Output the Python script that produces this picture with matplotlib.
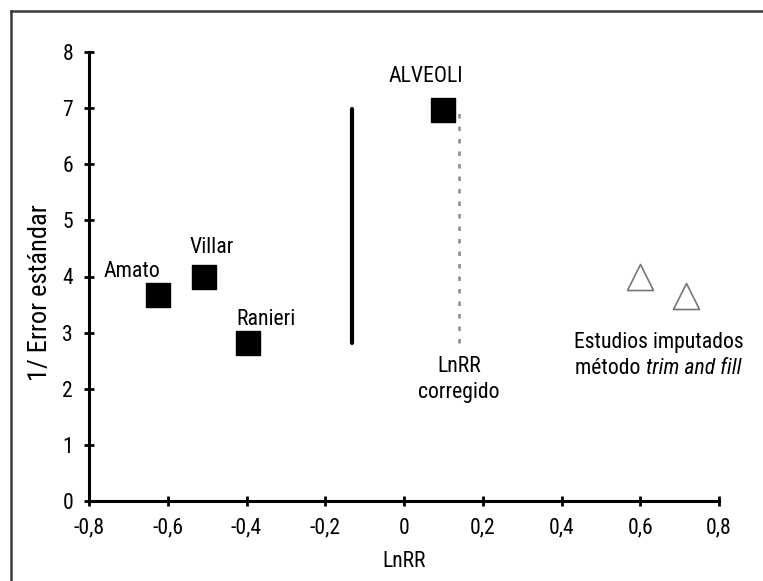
import matplotlib
matplotlib.use("Agg")
import matplotlib.pyplot as plt
from matplotlib.lines import Line2D
from matplotlib import font_manager as fm

# Data
studies = ["Amato", "Villar", "Ranieri", "ALVEOLI"]
study_x = [-0.625, -0.508, -0.396, 0.099]
study_y = [3.67, 3.99, 2.82, 6.97]

imputed_x = [0.60, 0.716]
imputed_y = [4.00, 3.65]

pooled_x = -0.132
pooled_y = [2.82, 6.98]
corrected_x = 0.14
corrected_y = [2.82, 7.0]

xticks = [-0.8, -0.6, -0.4, -0.2, 0, 0.2, 0.4, 0.6, 0.8]
xtick_labels = ["-0,8", "-0,6", "-0,4", "-0,2", "0", "0,2", "0,4", "0,6", "0,8"]
yticks = [0, 1, 2, 3, 4, 5, 6, 7, 8]

# pick a condensed face if one is installed
family = None
for cand in ["Liberation Sans Narrow", "Roboto Condensed", "Open Sans Condensed", "DejaVu Sans Condensed"]:
    try:
        fm.findfont(fm.FontProperties(family=cand), fallback_to_default=False)
        family = cand
        break
    except Exception:
        pass
if family is None:
    family = "Liberation Sans"
plt.rcParams['font.family'] = [family, 'DejaVu Sans']

W, H = 763, 581
fig = plt.figure(figsize=(W / 100, H / 100), dpi=100)
r = fig.canvas.get_renderer()


def fit_size(text, target_px, style="normal"):
    t = fig.text(0, 0, text, fontsize=20, style=style)
    w = t.get_window_extent(r).width
    t.remove()
    return 20 * target_px / w


tick_fs = fit_size("-0,8", 31)
fs = fit_size("Estudios imputados", 170)
ylab_fs = fit_size("1/ Error estándar", 176)

ax = fig.add_axes([89 / W, 1 - 501 / H, (719 - 89) / W, (501 - 52) / H])

# outer frame (only left and top edges inside the image)
fx = 10.5 / W
fy = 1 - 10.5 / H
fig.add_artist(Line2D([fx, fx], [-0.01, fy], transform=fig.transFigure, color="#3a3a3a", linewidth=1.8))
fig.add_artist(Line2D([fx, 1.01], [fy, fy], transform=fig.transFigure, color="#3a3a3a", linewidth=1.8))

ax.set_xlim(-0.8, 0.8)
ax.set_ylim(0, 8)
for s in ["top", "right"]:
    ax.spines[s].set_visible(False)
for s in ["left", "bottom"]:
    ax.spines[s].set_linewidth(2.2)
ax.set_xticks(xticks)
ax.set_xticklabels(xtick_labels)
ax.set_yticks(yticks)
ax.tick_params(direction="inout", length=7, width=2, labelsize=tick_fs)
ax.tick_params(axis="x", pad=8.5)
ax.tick_params(axis="y", pad=8)

ax.scatter(study_x, study_y, marker="s", s=24 ** 2 * 0.52, color="black", zorder=3, clip_on=False)
ax.scatter(imputed_x, imputed_y, marker="^", s=26 ** 2 * 0.52, facecolor="white",
           edgecolor="#777777", linewidth=1.2, zorder=3, clip_on=False)

ax.plot([pooled_x, pooled_x], pooled_y, color="black", linewidth=3, solid_capstyle="round")
ax.plot([corrected_x, corrected_x], corrected_y, color="#8a8a8a", linewidth=1.8,
        linestyle=(0, (1.8, 3.2)))

ax.text(-0.690, 3.99, "Amato", fontsize=fs, ha="center", va="baseline")
ax.text(-0.488, 4.42, "Villar", fontsize=fs, ha="center", va="baseline")
ax.text(-0.350, 3.14, "Ranieri", fontsize=fs, ha="center", va="baseline")
ax.text(0.056, 7.47, "ALVEOLI", fontsize=fs, ha="center", va="baseline")
ax.text(0.14, 2.30, "LnRR", fontsize=fs, ha="center", va="baseline")
ax.text(0.14, 1.84, "corregido", fontsize=fs, ha="center", va="baseline")

ax.text(0.646, 2.73, "Estudios imputados", fontsize=fs, ha="center", va="baseline")
# "método trim and fill" with italic part, centred as one line
tmp_a = ax.text(0, 0, "método ", fontsize=fs)
tmp_b = ax.text(0, 0, "trim and fill", fontsize=fs, style="italic")
wa = tmp_a.get_window_extent(r).width
wb = tmp_b.get_window_extent(r).width
tmp_a.remove()
tmp_b.remove()
cx, cy = ax.transData.transform((0.646, 2.27))
inv = ax.transData.inverted()
xs = inv.transform((cx - (wa + wb) / 2, cy))[0]
xi = inv.transform((cx - (wa + wb) / 2 + wa, cy))[0]
ax.text(xs, 2.27, "método ", fontsize=fs, ha="left", va="baseline")
ax.text(xi, 2.27, "trim and fill", fontsize=fs, ha="left", va="baseline", style="italic")

ax.set_xlabel("LnRR", fontsize=tick_fs, labelpad=9)
ax.set_ylabel("1/ Error estándar", fontsize=ylab_fs)
ax.yaxis.set_label_coords(-0.058, 0.463)

fig.savefig("out.png", dpi=100)
